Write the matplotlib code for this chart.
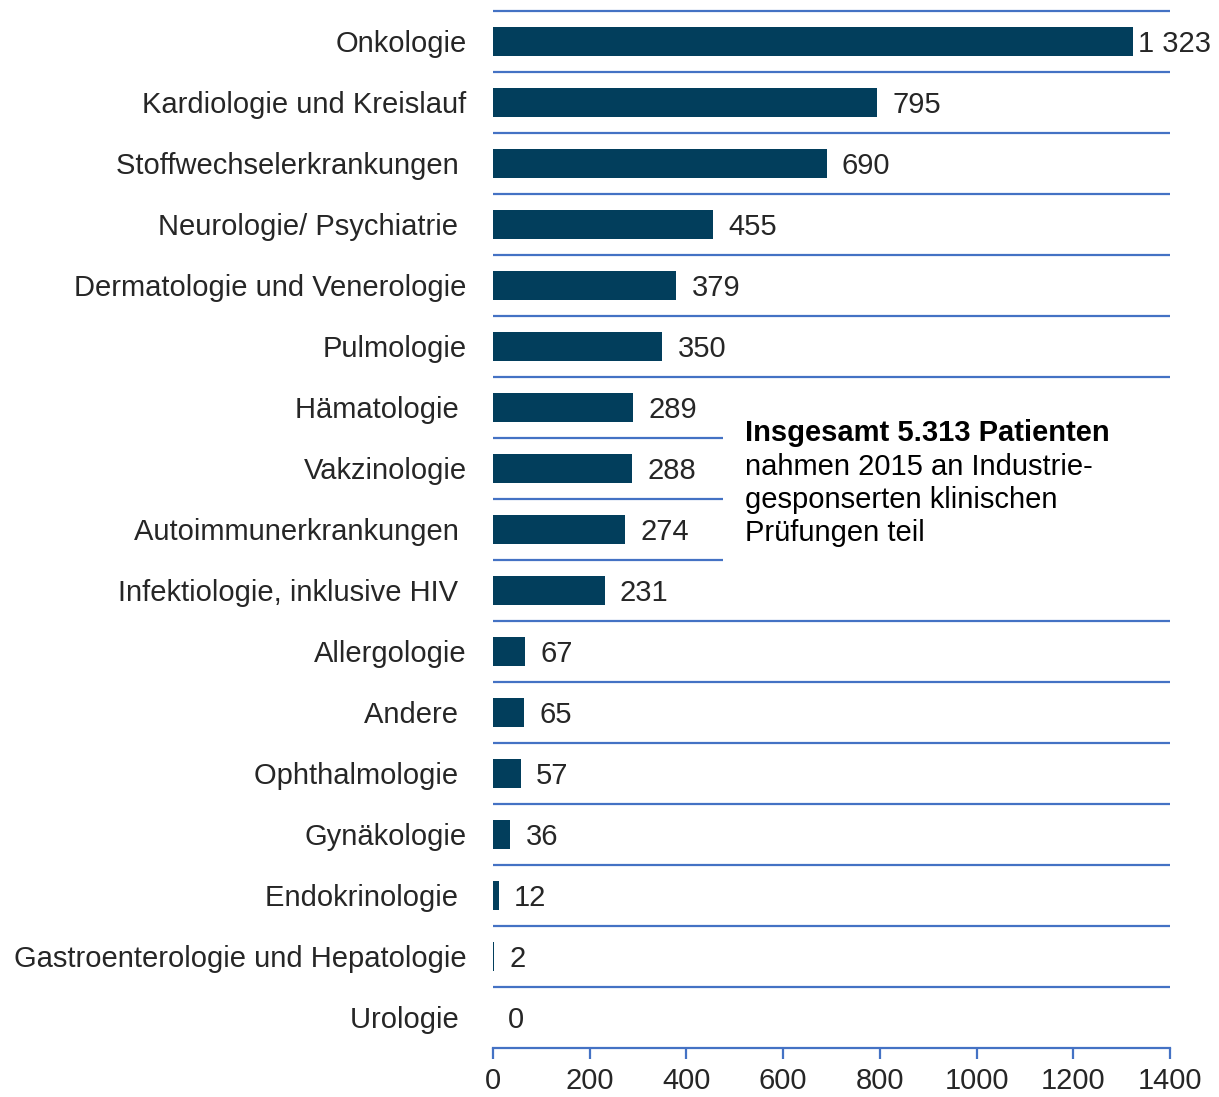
import numpy as np
import matplotlib.pyplot as plt

# data
categories = [
    "Onkologie", "Kardiologie und Kreislauf", "Stoffwechselerkrankungen ",
    "Neurologie/ Psychiatrie ", "Dermatologie und Venerologie", "Pulmologie",
    "Hämatologie ", "Vakzinologie", "Autoimmunerkrankungen ",
    "Infektiologie, inklusive HIV ", "Allergologie", "Andere ",
    "Ophthalmologie ", "Gynäkologie", "Endokrinologie ",
    "Gastroenterologie und Hepatologie", "Urologie ",
]
patients = [1323, 795, 690, 455, 379, 350, 289, 288, 274, 231, 67, 65, 57, 36, 12, 2, 0]
value_labels = ["1 323", "795", "690", "455", "379", "350", "289", "288", "274",
                "231", "67", "65", "57", "36", "12", "2", "0"]
xticks = [0, 200, 400, 600, 800, 1000, 1200, 1400]

note_bold = "Insgesamt 5.313 Patienten"
note_rest = "nahmen 2015 an Industrie-\ngesponserten klinischen\nPrüfungen teil"

bar_color = "#023e5c"
line_color = "#4472c4"
text_color = "#262626"
fs = 21

plt.rcParams['font.family'] = ["Liberation Sans", "DejaVu Sans"]

fig = plt.figure(figsize=(12.19, 10.97), dpi=100)
ax = fig.add_axes([0.4044, 0.0447, 0.9598 - 0.4044, 0.99 - 0.0447])

y = np.arange(len(categories))
ax.barh(y, patients, height=0.49, color=bar_color)

# separator lines between categories; three are shortened next to the note
bounds = np.arange(len(categories) + 1) - 0.5
for b in bounds[:-1]:
    right = 475 if b in (6.5, 7.5, 8.5) else 1400
    ax.hlines(b, 0, right, color=line_color, linewidth=1.6, clip_on=False)

for yi, v, lab in zip(y, patients, value_labels):
    off = 4 if v > 1300 else 11
    ax.annotate(lab, (v, yi), xytext=(off, 0), textcoords="offset points",
                va="center_baseline", ha="left", fontsize=fs, color=text_color)

ax.set_xlim(0, 1400)
ax.set_ylim(len(categories) - 0.5, -0.5)
ax.set_yticks(y)
ax.set_yticklabels(categories, fontsize=fs, color=text_color)
ax.tick_params(axis="y", length=0, pad=19)
ax.set_xticks(xticks)
ax.set_xticklabels([str(t) for t in xticks], fontsize=fs, color=text_color)
ax.tick_params(axis="x", length=8, width=1.6, color=line_color, pad=6)

for side in ("left", "right", "top"):
    ax.spines[side].set_visible(False)
ax.spines["bottom"].set_color(line_color)
ax.spines["bottom"].set_linewidth(1.6)

fig.text(745 / 1219, 1 - 433 / 1097, note_bold, fontsize=fs, fontweight="bold",
         color="black", va="center", ha="left")
fig.text(745 / 1219, 1 - 453 / 1097, note_rest, fontsize=fs, color="black",
         va="top", ha="left", linespacing=1.23)

fig.savefig("out.png", dpi=100)
